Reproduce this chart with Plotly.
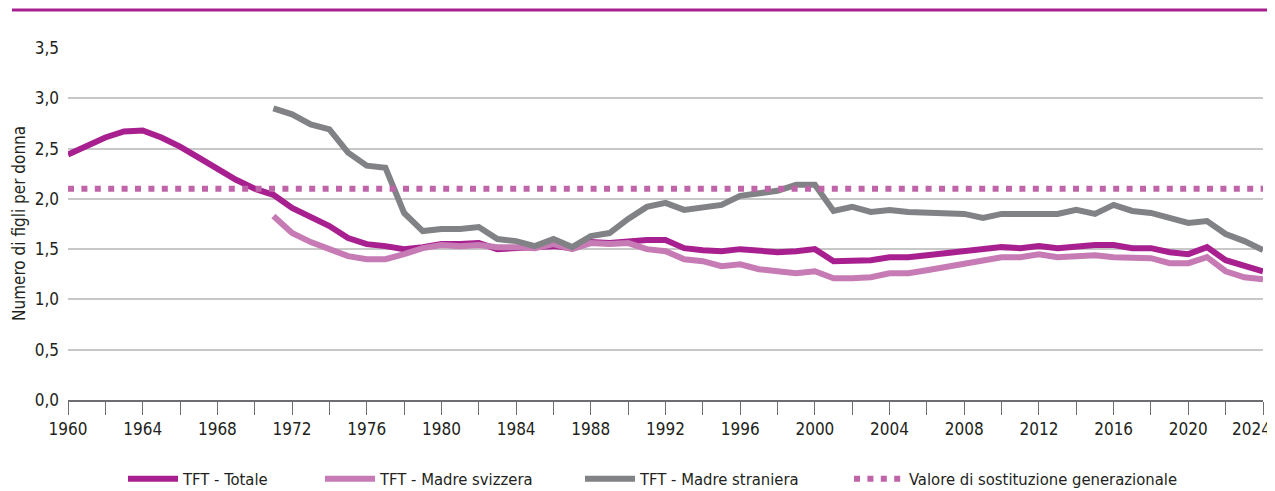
import plotly.graph_objects as go

years = list(range(1960, 2025))
years_71 = list(range(1971, 2025))

tft_totale = [2.44, 2.53, 2.61, 2.67, 2.68, 2.61, 2.52, 2.41, 2.30, 2.19,
              2.10, 2.04, 1.91, 1.82, 1.73, 1.61, 1.55, 1.53, 1.50, 1.52,
              1.55, 1.55, 1.56, 1.50, 1.51, 1.51, 1.53, 1.51, 1.57, 1.56,
              1.58, 1.59, 1.59, 1.51, 1.49, 1.48, 1.50, 1.48, 1.47, 1.48,
              1.50, 1.38, 1.39, 1.39, 1.42, 1.42, 1.44, 1.46, 1.48, 1.50,
              1.52, 1.51, 1.53, 1.51, 1.53, 1.54, 1.54, 1.51, 1.51, 1.47,
              1.45, 1.52, 1.39, 1.33, 1.28]

tft_svizzera = [1.83, 1.66, 1.57, 1.50, 1.43, 1.40, 1.40, 1.45, 1.51,
                1.54, 1.53, 1.54, 1.52, 1.52, 1.51, 1.55, 1.50, 1.56, 1.55,
                1.56, 1.50, 1.48, 1.40, 1.38, 1.33, 1.35, 1.30, 1.28, 1.26,
                1.28, 1.21, 1.21, 1.22, 1.26, 1.26, 1.29, 1.32, 1.36, 1.39,
                1.42, 1.42, 1.45, 1.42, 1.43, 1.44, 1.42, 1.41, 1.41, 1.36,
                1.36, 1.42, 1.28, 1.22, 1.20]

tft_straniera = [2.90, 2.84, 2.74, 2.69, 2.46, 2.33, 2.31, 1.86, 1.68,
                 1.70, 1.70, 1.72, 1.60, 1.58, 1.53, 1.60, 1.52, 1.63, 1.66,
                 1.80, 1.92, 1.96, 1.89, 1.91, 1.94, 2.03, 2.05, 2.08, 2.14,
                 2.14, 1.88, 1.92, 1.87, 1.89, 1.87, 1.86, 1.85, 1.85, 1.81,
                 1.85, 1.85, 1.85, 1.85, 1.89, 1.85, 1.94, 1.88, 1.86, 1.81,
                 1.76, 1.78, 1.65, 1.58, 1.49]

sostituzione_anni = [1960, 2024]
sostituzione_val = [2.1, 2.1]

names = ["TFT - Totale", "TFT - Madre svizzera", "TFT - Madre straniera",
         "Valore di sostituzione generazionale"]

x_tickvals = list(range(1960, 2025, 4))
x_ticklabels = [str(v) for v in x_tickvals]
y_tickvals = [0, 0.5, 1.0, 1.5, 2.0, 2.5, 3.0, 3.5]

FONT = "Liberation Sans Narrow, Arial Narrow, DejaVu Sans Condensed, sans-serif"
TXT = "#231f20"
C_TOT = "#a8208f"
C_SVI = "#c67bb4"
C_STR = "#818285"
C_DOT = "#c064a9"

# the page body keeps its default 8px margin, so the figure is sized and
# its margins set so that the plot lands where it sits in the reference
PAGE_PAD = 8
PLOT_L, PLOT_R, PLOT_T, PLOT_B = 68, 1263, 48, 400  # window pixels
FIG_W, FIG_H = 1275 - PAGE_PAD, 491 - PAGE_PAD
PW, PH = PLOT_R - PLOT_L, PLOT_B - PLOT_T

fig = go.Figure()
fig.add_trace(go.Scatter(x=years, y=tft_totale, name=names[0], mode="lines",
                         legend="legend",
                         line=dict(color=C_TOT, width=6)))
fig.add_trace(go.Scatter(x=years_71, y=tft_svizzera, name=names[1], mode="lines",
                         legend="legend2",
                         line=dict(color=C_SVI, width=6)))
fig.add_trace(go.Scatter(x=years_71, y=tft_straniera, name=names[2], mode="lines",
                         legend="legend3",
                         line=dict(color=C_STR, width=6)))
fig.add_trace(go.Scatter(x=sostituzione_anni, y=sostituzione_val, name=names[3],
                         mode="lines", legend="legend4",
                         line=dict(color=C_DOT, width=6, dash="6px,7.4px")))


def px_x(px):
    return (px - PLOT_L) / PW


def px_y(py):
    return (PLOT_B - py) / PH


def leg(xpx):
    return dict(orientation="h", x=px_x(xpx), xanchor="left",
                y=px_y(479), yanchor="middle",
                font=dict(family=FONT, size=16.5, color=TXT),
                itemwidth=50, bgcolor="rgba(0,0,0,0)", borderwidth=0)


# the last year label sits shifted left so it stays inside the page
last_label = dict(text=x_ticklabels[-1], xref="paper", yref="paper",
                  x=px_x(1251), y=px_y(417), xanchor="center", yanchor="top",
                  showarrow=False, font=dict(size=17, color=TXT))

fig.update_layout(
    width=FIG_W, height=FIG_H,
    margin=dict(l=PLOT_L - PAGE_PAD, r=FIG_W - (PLOT_R - PAGE_PAD),
                t=PLOT_T - PAGE_PAD, b=FIG_H - (PLOT_B - PAGE_PAD),
                autoexpand=False),
    paper_bgcolor="white", plot_bgcolor="white",
    separators=", ",
    font=dict(family=FONT, size=17, color=TXT),
    showlegend=True,
    legend=leg(123), legend2=leg(320), legend3=leg(580), legend4=leg(849),
    xaxis=dict(range=[1960, 2024], tickvals=x_tickvals,
               ticktext=x_ticklabels[:-1] + [""],
               showgrid=False, automargin=False,
               ticks="outside", ticklen=13, tickwidth=1.3, tickcolor="#6d6e71",
               showline=True, linecolor="#6d6e71", linewidth=1.5,
               zeroline=False, tickfont=dict(size=17),
               minor=dict(dtick=2, tick0=1960, ticks="outside", ticklen=13,
                          tickwidth=1.3, tickcolor="#6d6e71", showgrid=False)),
    yaxis=dict(range=[0, 3.5], tickvals=y_tickvals, tickformat=".1f",
               showgrid=True, gridcolor="#c8c8c8", gridwidth=1.5,
               automargin=False, zeroline=False, showline=False, ticks="",
               ticklabelstandoff=8, tickfont=dict(size=17)),
    shapes=[dict(type="line", xref="paper", yref="paper",
                 x0=px_x(12), x1=px_x(1275), y0=px_y(10), y1=px_y(10),
                 line=dict(color=C_TOT, width=3))],
    annotations=[dict(text="Numero di figli per donna", xref="paper", yref="paper",
                      x=px_x(19), y=0.5, xanchor="center", yanchor="middle",
                      textangle=-90, showarrow=False,
                      font=dict(size=17, color=TXT)),
                 last_label],
)

fig.write_html("out.html")
